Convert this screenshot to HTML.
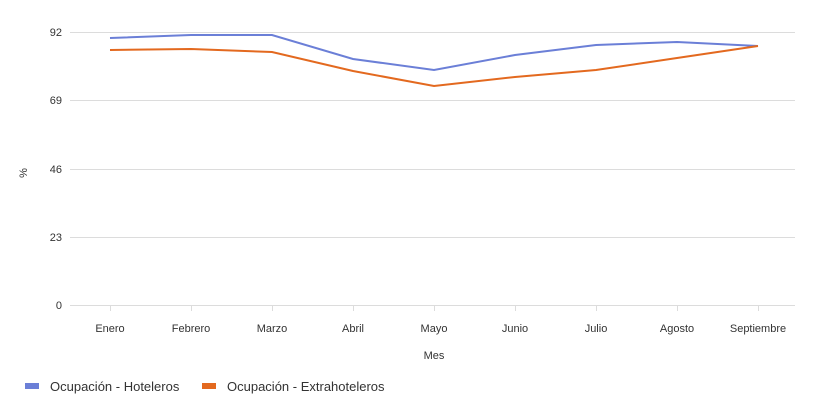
<!DOCTYPE html>
<html><head><style>body{margin:0;background:#fff}</style></head><body>
<svg width="823" height="403" xmlns="http://www.w3.org/2000/svg" font-family="Liberation Sans, sans-serif">
<g stroke="#dcdcdc" stroke-width="1">
<line x1="70" x2="795" y1="32.5" y2="32.5"/>
<line x1="70" x2="795" y1="100.5" y2="100.5"/>
<line x1="70" x2="795" y1="169.5" y2="169.5"/>
<line x1="70" x2="795" y1="237.5" y2="237.5"/>
<line x1="70" x2="795" y1="305.5" y2="305.5"/>
<line x1="110.5" x2="110.5" y1="305" y2="311"/><line x1="191.5" x2="191.5" y1="305" y2="311"/><line x1="272.5" x2="272.5" y1="305" y2="311"/><line x1="353.5" x2="353.5" y1="305" y2="311"/><line x1="434.5" x2="434.5" y1="305" y2="311"/><line x1="515.5" x2="515.5" y1="305" y2="311"/><line x1="596.5" x2="596.5" y1="305" y2="311"/><line x1="677.5" x2="677.5" y1="305" y2="311"/><line x1="758.5" x2="758.5" y1="305" y2="311"/>
</g>
<g font-size="11" fill="#333" text-anchor="end">
<text x="62" y="36">92</text><text x="62" y="104">69</text><text x="62" y="173">46</text><text x="62" y="241">23</text><text x="62" y="309">0</text>
</g>
<text x="27" y="173" font-size="11" fill="#333" text-anchor="middle" transform="rotate(-90 27 173)">%</text>
<g font-size="11" fill="#333" text-anchor="middle">
<text x="110" y="332">Enero</text><text x="191" y="332">Febrero</text><text x="272" y="332">Marzo</text><text x="353" y="332">Abril</text><text x="434" y="332">Mayo</text><text x="515" y="332">Junio</text><text x="596" y="332">Julio</text><text x="677" y="332">Agosto</text><text x="758" y="332">Septiembre</text>
<text x="434" y="359">Mes</text>
</g>
<polyline fill="none" stroke="#6b7fd7" stroke-width="2" points="110,38 191,35 272,35 353,59 434,70 515,55 596,45 677,42 758,46"/>
<polyline fill="none" stroke="#e3691f" stroke-width="2" points="110,50 191,49 272,52 353,71 434,86 515,77 596,70 677,58 758,46"/>
<rect x="25" y="383" width="14" height="6" fill="#6b7fd7"/>
<text x="50" y="391" font-size="13" fill="#333">Ocupación - Hoteleros</text>
<rect x="202" y="383" width="14" height="6" fill="#e3691f"/>
<text x="227" y="391" font-size="13" fill="#333">Ocupación - Extrahoteleros</text>
</svg>
</body></html>
